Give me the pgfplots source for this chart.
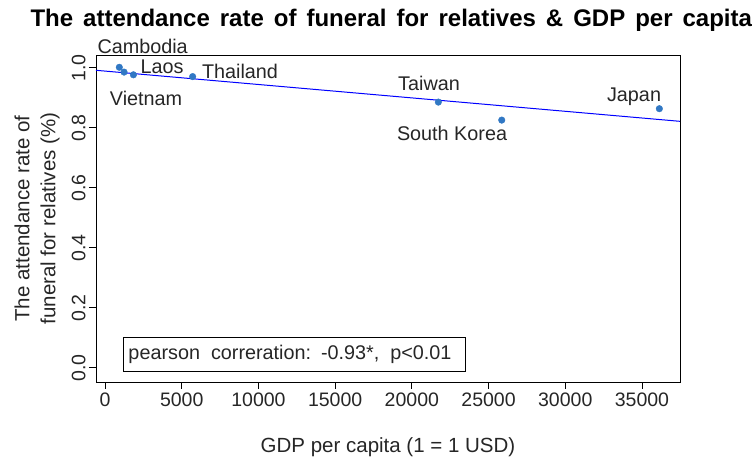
\documentclass[border=0pt]{standalone}
\usepackage{pgfplots}
\pgfplotsset{compat=1.18}
\usepackage{fontspec}
\setmainfont{Liberation Sans}
\definecolor{ptblue}{RGB}{49,120,196}

\begin{document}
\begin{tikzpicture}
\begin{axis}[
    scale only axis,
    width=584pt, height=327pt,
    xmin=-590, xmax=37480,
    ymin=-0.047, ymax=1.043,
    clip=false,
    axis line style={black, line width=0.9pt},
    tick align=outside,
    major tick length=7pt,
    tick style={black, line width=0.9pt},
    xtick pos=bottom, ytick pos=left,
    xtick={0,5000,...,35000},
    ytick={0,0.2,0.4,0.6,0.8,1.0},
    scaled x ticks=false,
    /pgf/number format/assume math mode=true,
    /pgf/number format/set thousands separator={},
    yticklabel style={/pgf/number format/fixed, /pgf/number format/fixed zerofill,
        /pgf/number format/precision=1, rotate=90, anchor=south},
    ticklabel style={font=\fontsize{19.5}{22}\selectfont, text=black!85},
    xlabel={GDP per capita (1 = 1 USD)},
    ylabel={The attendance rate of\\funeral for relatives (\%)},
    xlabel style={at={(axis description cs:0.5,-0.199)}, anchor=center,
        font=\fontsize{20.5}{22}\selectfont, text=black!85},
    ylabel style={at={(axis description cs:-0.101,0.5)}, anchor=center, align=center,
        font=\fontsize{20.5}{26}\selectfont, text=black!85},
]
% fitted trend line
\addplot[blue, line width=1pt] coordinates {(-590,0.9920) (37480,0.8219)};
% countries
\addplot[only marks, mark=*, mark size=3.3pt, color=ptblue] coordinates {
    (930,1.002) (1240,0.986) (1850,0.977) (5710,0.971)
    (21727,0.886) (25860,0.826) (36134,0.864)
};
\begin{scope}[every node/.style={font=\fontsize{19.8}{22}\selectfont, text=black!85}]
\node at (axis cs:2450,1.070) {Cambodia};
\node at (axis cs:3716,1.003) {Laos};
\node at (axis cs:8800,0.987) {Thailand};
\node at (axis cs:2673,0.897) {Vietnam};
\node at (axis cs:21121,0.947) {Taiwan};
\node at (axis cs:22620,0.783) {South Korea};
\node at (axis cs:34485,0.903) {Japan};
\node[draw=black, line width=0.9pt, anchor=south west, inner xsep=5pt,
      minimum height=34pt, text width=332pt, align=left]
    at (axis cs:1173,-0.013) {\spaceskip=11pt\relax pearson correration: -0.93*, p<0.01};
\end{scope}
\end{axis}
\node[anchor=base west, font=\fontsize{24}{26}\selectfont\bfseries]
    at (-69pt,355pt)
    {\spaceskip=10pt\relax The attendance rate of funeral for relatives \& GDP per capita};
\pgfresetboundingbox
\path[use as bounding box] (-96pt,-84pt) rectangle (660pt,382pt);
\end{tikzpicture}
\end{document}
